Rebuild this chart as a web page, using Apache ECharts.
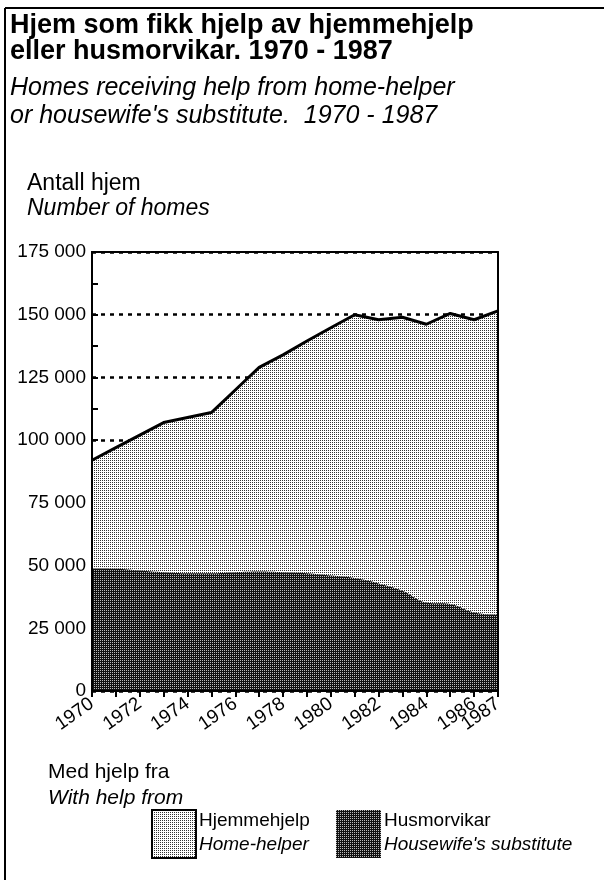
<!DOCTYPE html>
<html>
<head>
<meta charset="utf-8">
<script src="https://cdn.jsdelivr.net/npm/echarts@6/dist/echarts.min.js"></script>
<style>
html, body { margin: 0; padding: 0; background: #fff; }
#chart { width: 604px; height: 880px; }
</style>
</head>
<body>
<div id="chart"></div>
<script>
// x axis categories
var years = ['1970', '1971', '1972', '1973', '1974', '1975', '1976', '1977', '1978',
             '1979', '1980', '1981', '1982', '1983', '1984', '1985', '1986', '1987'];
// top edge of the light area (all homes helped = hjemmehjelp on top of husmorvikar)
var totalHomes = [92000, 97000, 102000, 107000, 109000, 111000, 120000, 129000, 134000,
                  139500, 144800, 150000, 148000, 149000, 146200, 150500, 148000, 151500];
// dark area, husmorvikar
var husmorvikar = [48800, 48700, 48000, 47300, 46900, 46900, 47300, 47600, 47300,
                   46900, 46000, 45000, 42900, 40000, 35300, 34700, 31300, 30400];
var yMax = 175000;
var yStep = 25000;

var FONT = '"Liberation Sans", Arial, Helvetica, sans-serif';

// halftone fills like the printed screens
function halftone(bg, dot) {
    var c = document.createElement('canvas');
    c.width = 2; c.height = 2;
    var ctx = c.getContext('2d');
    ctx.fillStyle = bg;
    ctx.fillRect(0, 0, 2, 2);
    ctx.fillStyle = dot;
    ctx.fillRect(0, 0, 1, 1);
    return c;
}
var lightFill = { image: halftone('#ffffff', '#333333'), repeat: 'repeat' };
var darkFill = { image: halftone('#111111', '#bbbbbb'), repeat: 'repeat' };

var chart = echarts.init(document.getElementById('chart'), null, { renderer: 'canvas' });

var xLabelStyle = {
    rotate: 35,
    margin: 11,
    color: '#000',
    fontFamily: FONT,
    fontSize: 19,
    hideOverlap: false
};

var option = {
    animation: false,
    backgroundColor: '#fff',
    grid: { left: 92, right: 106, top: 252, bottom: 189 },
    xAxis: [
        {
            type: 'category',
            data: years,
            boundaryGap: false,
            z: 10,
            axisLine: { onZero: false, lineStyle: { color: '#000', width: 2 } },
            axisTick: { show: true, interval: 0, length: 6, lineStyle: { color: '#000', width: 2 } },
            axisLabel: Object.assign({
                interval: function (i) { return i % 2 === 0; },
                showMinLabel: true,
                showMaxLabel: true
            }, xLabelStyle),
            splitLine: { show: false }
        },
        {
            // top border of the plot
            type: 'category',
            data: years,
            boundaryGap: false,
            position: 'top',
            z: 10,
            axisLine: { onZero: false, lineStyle: { color: '#000', width: 2 } },
            axisTick: { show: false },
            axisLabel: { show: false }
        },
        {
            // only the last year label, so it may overlap 1986 like the print
            type: 'category',
            data: years,
            boundaryGap: false,
            position: 'bottom',
            axisLine: { show: false, onZero: false },
            axisTick: { show: false },
            axisLabel: Object.assign({
                interval: function (i) { return i === years.length - 1; },
                showMinLabel: true,
                showMaxLabel: true
            }, xLabelStyle)
        }
    ],
    yAxis: [
        {
            type: 'value',
            min: 0,
            max: yMax,
            interval: yStep,
            axisLine: { show: true, lineStyle: { color: '#000', width: 2 } },
            axisTick: { show: true, inside: true, length: 6, lineStyle: { color: '#000', width: 2 } },
            minorTick: { show: true, splitNumber: 2, length: 6, lineStyle: { color: '#000', width: 2 } },
            axisLabel: {
                color: '#000',
                fontFamily: FONT,
                fontSize: 19,
                margin: 6,
                formatter: function (v) { return v === 0 ? '0' : (v / 1000) + ' 000'; }
            },
            splitLine: {
                show: true,
                lineStyle: { color: '#000', width: 2.5, type: [4, 5] }
            }
        },
        {
            // left border drawn above the areas
            type: 'value',
            min: 0, max: yMax, interval: yStep,
            position: 'left',
            z: 10,
            axisLine: { show: true, onZero: false, lineStyle: { color: '#000', width: 2 } },
            axisTick: { show: false },
            axisLabel: { show: false },
            splitLine: { show: false }
        },
        {
            // right border
            type: 'value',
            min: 0, max: yMax, interval: yStep,
            position: 'right',
            z: 10,
            axisLine: { show: true, onZero: false, lineStyle: { color: '#000', width: 2 } },
            axisTick: { show: false },
            axisLabel: { show: false },
            splitLine: { show: false }
        }
    ],
    series: [
        {
            name: 'Hjemmehjelp',
            type: 'line',
            data: totalHomes,
            showSymbol: false,
            lineStyle: { color: '#000', width: 3 },
            areaStyle: { color: lightFill, opacity: 1 }
        },
        {
            name: 'Husmorvikar',
            type: 'line',
            data: husmorvikar,
            smooth: 0.4,
            showSymbol: false,
            lineStyle: { width: 0 },
            areaStyle: { color: darkFill, opacity: 1 }
        }
    ],
    graphic: [
        // figure frame
        { type: 'line', shape: { x1: 5, y1: 8, x2: 604, y2: 8 }, style: { stroke: '#000', lineWidth: 2 } },
        { type: 'line', shape: { x1: 5, y1: 8, x2: 5, y2: 880 }, style: { stroke: '#000', lineWidth: 2 } },
        {
            type: 'text', x: 10, y: 13,
            style: { text: 'Hjem som fikk hjelp av hjemmehjelp\neller husmorvikar. 1970 - 1987',
                     font: 'bold 27px ' + FONT, lineHeight: 26, fill: '#000' }
        },
        {
            type: 'text', x: 10, y: 74,
            style: { text: 'Homes receiving help from home-helper\nor housewife\'s substitute.  1970 - 1987',
                     font: 'italic 25px ' + FONT, lineHeight: 28, fill: '#000' }
        },
        {
            type: 'text', x: 27, y: 172,
            style: { text: 'Antall hjem', font: '23px ' + FONT, fill: '#000' }
        },
        {
            type: 'text', x: 27, y: 197,
            style: { text: 'Number of homes', font: 'italic 23px ' + FONT, fill: '#000' }
        },
        {
            type: 'text', x: 48, y: 762,
            style: { text: 'Med hjelp fra', font: '21px ' + FONT, fill: '#000' }
        },
        {
            type: 'text', x: 48, y: 788,
            style: { text: 'With help from', font: 'italic 21px ' + FONT, fill: '#000' }
        },
        // legend
        {
            type: 'rect', shape: { x: 152, y: 810, width: 44, height: 48 },
            style: { fill: lightFill, stroke: '#000', lineWidth: 2 }
        },
        {
            type: 'text', x: 199, y: 811,
            style: { text: 'Hjemmehjelp', font: '19px ' + FONT, fill: '#000' }
        },
        {
            type: 'text', x: 199, y: 835,
            style: { text: 'Home-helper', font: 'italic 19px ' + FONT, fill: '#000' }
        },
        {
            type: 'rect', shape: { x: 336, y: 810, width: 45, height: 48 },
            style: { fill: darkFill }
        },
        {
            type: 'text', x: 384, y: 811,
            style: { text: 'Husmorvikar', font: '19px ' + FONT, fill: '#000' }
        },
        {
            type: 'text', x: 384, y: 835,
            style: { text: 'Housewife\'s substitute', font: 'italic 19px ' + FONT, fill: '#000' }
        }
    ]
};
chart.setOption(option);
</script>
</body>
</html>
